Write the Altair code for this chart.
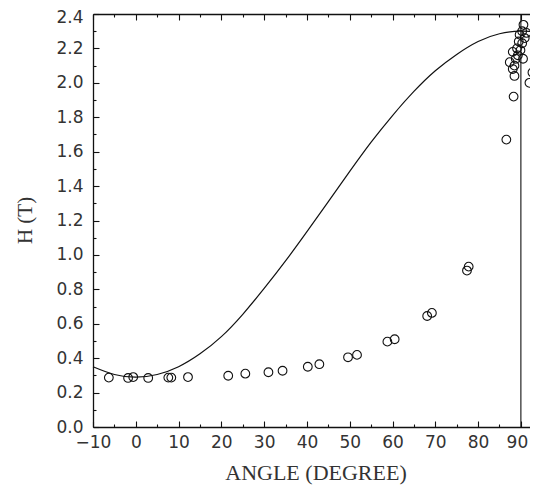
import altair as alt
import pandas as pd

# Fitted curve
curve_angle = [-10, -5, 0, 5, 10, 15, 20, 25, 30, 35, 40, 45, 50, 55, 60, 65, 70, 75, 80, 85, 90, 94]
curve_h = [0.35, 0.305, 0.29, 0.305, 0.35, 0.425, 0.525, 0.655, 0.805, 0.965, 1.135, 1.31,
           1.485, 1.655, 1.81, 1.95, 2.07, 2.165, 2.24, 2.285, 2.30, 2.295]

# Measured points
pt_angle = [-6.3, -1.8, -0.6, 2.9, 7.6, 8.3, 12.2, 21.6, 25.6, 31.0, 34.3, 40.2, 42.9,
            49.6, 51.7, 58.8, 60.5, 68.1, 69.2, 77.4, 77.8,
            90.6, 90.3, 91.3, 89.7, 90.9, 89.5, 90.3, 89.1, 89.9, 93.4, 88.1, 89.3, 88.8,
            90.5, 87.4, 88.5, 88.1, 88.5, 92.7, 92.0, 88.3, 86.6]
pt_h = [0.287, 0.285, 0.29, 0.285, 0.287, 0.287, 0.29, 0.298, 0.31, 0.318, 0.327, 0.35, 0.365,
        0.405, 0.419, 0.496, 0.51, 0.645, 0.663, 0.909, 0.932,
        2.337, 2.30, 2.29, 2.28, 2.26, 2.24, 2.23, 2.20, 2.19, 2.196, 2.18, 2.16, 2.14,
        2.14, 2.12, 2.10, 2.08, 2.04, 2.06, 2.00, 1.92, 1.67]

# Vertical reference line
rule_angle = [90]
rule_h0 = [0.0]
rule_h1 = [2.4]

# Ticks
x_major = [-10, 0, 10, 20, 30, 40, 50, 60, 70, 80, 90]
x_all = [-10, -5, 0, 5, 10, 15, 20, 25, 30, 35, 40, 45, 50, 55, 60, 65, 70, 75, 80, 85, 90]
y_major = [0.0, 0.2, 0.4, 0.6, 0.8, 1.0, 1.2, 1.4, 1.6, 1.8, 2.0, 2.2, 2.4]
y_all = [0.0, 0.1, 0.2, 0.3, 0.4, 0.5, 0.6, 0.7, 0.8, 0.9, 1.0, 1.1, 1.2, 1.3, 1.4, 1.5,
         1.6, 1.7, 1.8, 1.9, 2.0, 2.1, 2.2, 2.3, 2.4]

W, H = 445, 413
LABEL_FONT = "DejaVu Sans"
TITLE_FONT = "Liberation Serif"
INK = "#111111"
TXT = "#333333"

curve_df = pd.DataFrame({"angle": curve_angle, "h": curve_h})
pts_df = pd.DataFrame({"angle": pt_angle, "h": pt_h})
rule_df = pd.DataFrame({"angle": rule_angle, "h0": rule_h0, "h1": rule_h1})

xscale = alt.Scale(domain=[-10, 94], nice=False, zero=False)
yscale = alt.Scale(domain=[0, 2.4], nice=False, zero=False)

x_tick_size = {"condition": {"test": "datum.value % 10 === 0", "value": 6}, "value": 3}
y_tick_size = {"condition": {"test": "round(datum.value * 10) % 2 === 0", "value": 6}, "value": 3}

# Label axes (bottom / left) with frame lines
x_label_axis = alt.Axis(orient="bottom", values=x_major, ticks=False, grid=False,
                        domain=True, domainColor=INK, domainWidth=1.3,
                        labelFont=LABEL_FONT, labelFontSize=17, labelColor=TXT,
                        labelPadding=7, labelFlush=False, labelOverlap=False, format="d",
                        labelOffset={"condition": {"test": "datum.value >= 90", "value": -4},
                                     "value": 0},
                        title="ANGLE (DEGREE)", titleFont=TITLE_FONT, titleFontSize=22,
                        titleFontWeight="normal", titleColor=TXT, titleY=52,
                        titleBaseline="alphabetic")
y_label_axis = alt.Axis(orient="left", values=y_major, ticks=False, grid=False,
                        domain=True, domainColor=INK, domainWidth=1.3,
                        labelFont=LABEL_FONT, labelFontSize=17, labelColor=TXT,
                        labelPadding=10, labelFlush=False, labelOverlap=False, format=".1f",
                        labelOffset={"condition": {"test": "datum.value > 2.35", "value": 3},
                                     "value": 0},
                        title="H (T)", titleFont=TITLE_FONT, titleFontSize=21,
                        titleFontWeight="normal", titleColor=TXT, titleX=-68, titleY=206,
                        titleAngle=270, titleAlign="center", titleBaseline="middle")

# Inward ticks on bottom and left
x_in_bottom = alt.Axis(orient="top", offset=-H, values=x_all, tickSize=x_tick_size,
                       tickColor=INK, tickWidth=1.1, labels=False, domain=False,
                       grid=False, title=None)
y_in_left = alt.Axis(orient="right", offset=-W, values=y_all, tickSize=y_tick_size,
                     tickColor=INK, tickWidth=1.1, labels=False, domain=False,
                     grid=False, title=None)

# Inward ticks on top (with frame line) and right
x_in_top = alt.Axis(orient="bottom", offset=-H, values=x_all, tickSize=x_tick_size,
                    tickColor=INK, tickWidth=1.1, labels=False, domain=True,
                    domainColor=INK, domainWidth=1.3, grid=False, title=None)
y_in_right = alt.Axis(orient="left", offset=-W, values=y_all, tickSize=y_tick_size,
                      tickColor=INK, tickWidth=1.1, labels=False, domain=False,
                      grid=False, title=None)

curve = alt.Chart(curve_df).mark_line(interpolate="natural", color=INK, strokeWidth=1.2).encode(
    x=alt.X("angle:Q", scale=xscale, axis=x_label_axis),
    y=alt.Y("h:Q", scale=yscale, axis=y_label_axis),
)

points = alt.Chart(pts_df).mark_point(shape="circle", filled=False, size=76,
                                      strokeWidth=1.1, color=INK, opacity=1).encode(
    x=alt.X("angle:Q", scale=xscale, axis=x_in_bottom),
    y=alt.Y("h:Q", scale=yscale, axis=y_in_left),
)

rule = alt.Chart(rule_df).mark_rule(color=INK, strokeWidth=1.1).encode(
    x=alt.X("angle:Q", scale=xscale, axis=x_in_top),
    y=alt.Y("h0:Q", scale=yscale, axis=y_in_right),
    y2="h1:Q",
)

chart = alt.layer(curve, points, rule).resolve_axis(
    x="independent", y="independent"
).properties(
    width=W, height=H,
    autosize=alt.AutoSizeParams(type="none"),
    padding={"left": 85, "top": 6, "right": -8, "bottom": 58},
    background="white",
).configure_view(strokeWidth=0)

chart.save("out.html", embed_options={"renderer": "svg", "actions": False})
